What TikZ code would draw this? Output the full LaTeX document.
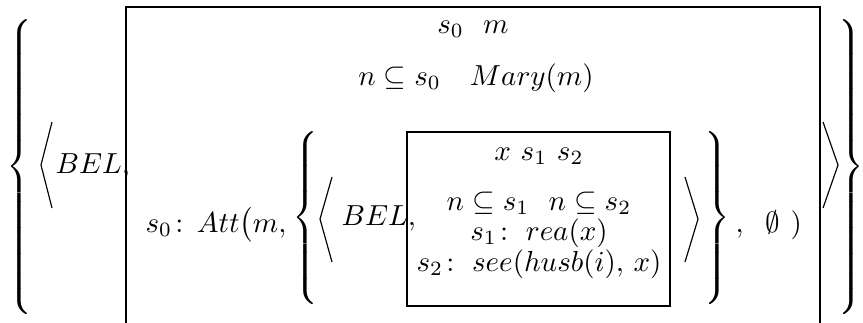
\documentclass[tikz,border=0pt]{standalone}
\usepackage{amsmath,amssymb}
\usetikzlibrary{positioning}
\newcommand{\lbrc}[1]{$\nulldelimiterspace=0pt\left\{\vcenter{\hrule height #1 width 0pt}\right.$}
\newcommand{\rbrc}[1]{$\nulldelimiterspace=0pt\left.\vcenter{\hrule height #1 width 0pt}\right\}$}
\tikzset{
  drsbox/.style={line width=0.75pt},
  angbr/.style={line width=0.4pt},
  cond/.style={inner sep=0pt,anchor=base},
  delim/.style={inner sep=0pt},
}
\begin{document}
\begin{tikzpicture}[x=0.345pt,y=-0.345pt]
  \useasboundingbox (0,0) rectangle (863,322);
  % outer set and pair
  \node[delim] (lb0) at (19,167) {\lbrc{106pt}};
  \node[delim] (rb0) at (851,167) {\rbrc{106pt}};
  \draw[angbr] (52,122) -- (41,165) -- (52,208);
  \draw[angbr] (823,122) -- (838,165) -- (823,208);
  \node[cond,anchor=base west] (bel0) at (55,173) {$BEL,$};
  % outer box
  \draw[drsbox] (126,340) |- (820,7) -- (820,340);
  \node[cond] (u0) at (473,33) {$s_0\ \ m$};
  \node[cond] (c0) at (476,85) {$n\subseteq s_0\quad Mary(m)$};
  \node[cond,anchor=base west] (att0) at (145,232) {$s_0\colon$};
  \node[cond,anchor=base east] (att1) at (287,232) {$Att\bigl(m,$};
  % inner set and pair
  \node[delim] (lb1) at (305,218) {\lbrc{64pt}};
  \node[delim] (rb1) at (717,218) {\rbrc{64pt}};
  \draw[angbr] (332,177) -- (320,219) -- (332,262);
  \draw[angbr] (685,177) -- (698,219) -- (685,262);
  \node[cond,anchor=base west] (bel1) at (341,225) {$BEL,$};
  % inner box
  \draw[drsbox] (407,132) rectangle (670,306);
  \node[cond] (u1) at (539,160) {$x\ s_1\ s_2$};
  \node[cond] (c1) at (539,210) {$n\subseteq s_1\ \ n\subseteq s_2$};
  \node[cond] (c2) at (539,240) {$s_1\colon\; rea(x)$};
  \node[cond] (c3) at (539,271) {$s_2\colon\; see(husb(i),\,x)$};
  \node[cond,anchor=base west] (tail) at (735,232) {$,\hspace{6pt}\emptyset\hspace{3.5pt})$};
\end{tikzpicture}
\end{document}
